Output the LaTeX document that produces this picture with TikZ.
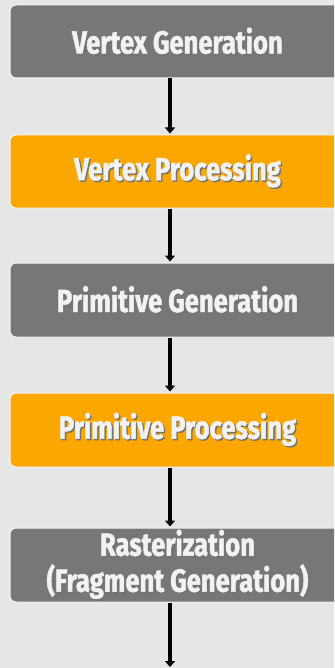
\documentclass[tikz,border=0pt]{standalone}
\usepackage{fontspec}
\newfontfamily\labfont[FakeStretch=0.8,FakeBold=1.5]{Fira Sans}
\usetikzlibrary{arrows.meta}
\definecolor{bg}{HTML}{E6E6E6}
\definecolor{boxgray}{HTML}{777777}
\definecolor{boxorange}{HTML}{FCA700}
\definecolor{labtext}{HTML}{F2F2F2}
\newcommand\shtext[1]{\makebox[0pt][l]{\hspace{1.4pt}\raisebox{-1.4pt}{\color{black!55}#1}}#1}
\tikzset{
  stagebox/.style={rectangle, rounded corners=6pt, draw=white!92!gray, line width=1pt,
    minimum width=335pt, text=labtext, font=\labfont\bfseries\fontsize{32}{36}\selectfont,
    align=center, inner sep=0pt},
  graybox/.style={stagebox, fill=boxgray},
  orangebox/.style={stagebox, fill=boxorange},
  flow/.style={line width=3.6pt, black, -{Triangle[width=10pt,length=6pt]}, shorten >=1pt}
}
\begin{document}
\begin{tikzpicture}[x=1pt,y=-1pt]
\useasboundingbox (0,0) rectangle (334,668);
\fill[bg] (0,0) rectangle (334,668);
\begin{scope}
\clip (0,0) rectangle (334,668);
\node[graybox, minimum height=73pt] (vg) at (177.5,41.5) {\shtext{Vertex Generation}};
\node[orangebox, minimum height=73pt] (vp) at (177.5,171.5) {\shtext{Vertex Processing}};
\node[graybox, minimum height=74pt] (pg) at (177.5,300) {\shtext{Primitive Generation}};
\node[orangebox, minimum height=74pt] (pp) at (177.5,430) {\shtext{Primitive Processing}};
\node[graybox, minimum height=74pt] (rf) at (177.5,565) {\shtext{Rasterization}\\\shtext{(Fragment Generation)}};
\coordinate (out) at (170,668);
\draw[flow] (vg.south -| 170,0) -- (vp.north -| 170,0);
\draw[flow] (vp.south -| 170,0) -- (pg.north -| 170,0);
\draw[flow] (pg.south -| 170,0) -- (pp.north -| 170,0);
\draw[flow] (pp.south -| 170,0) -- (rf.north -| 170,0);
\draw[flow] (rf.south -| 170,0) -- (out);
\end{scope}
\end{tikzpicture}
\end{document}
